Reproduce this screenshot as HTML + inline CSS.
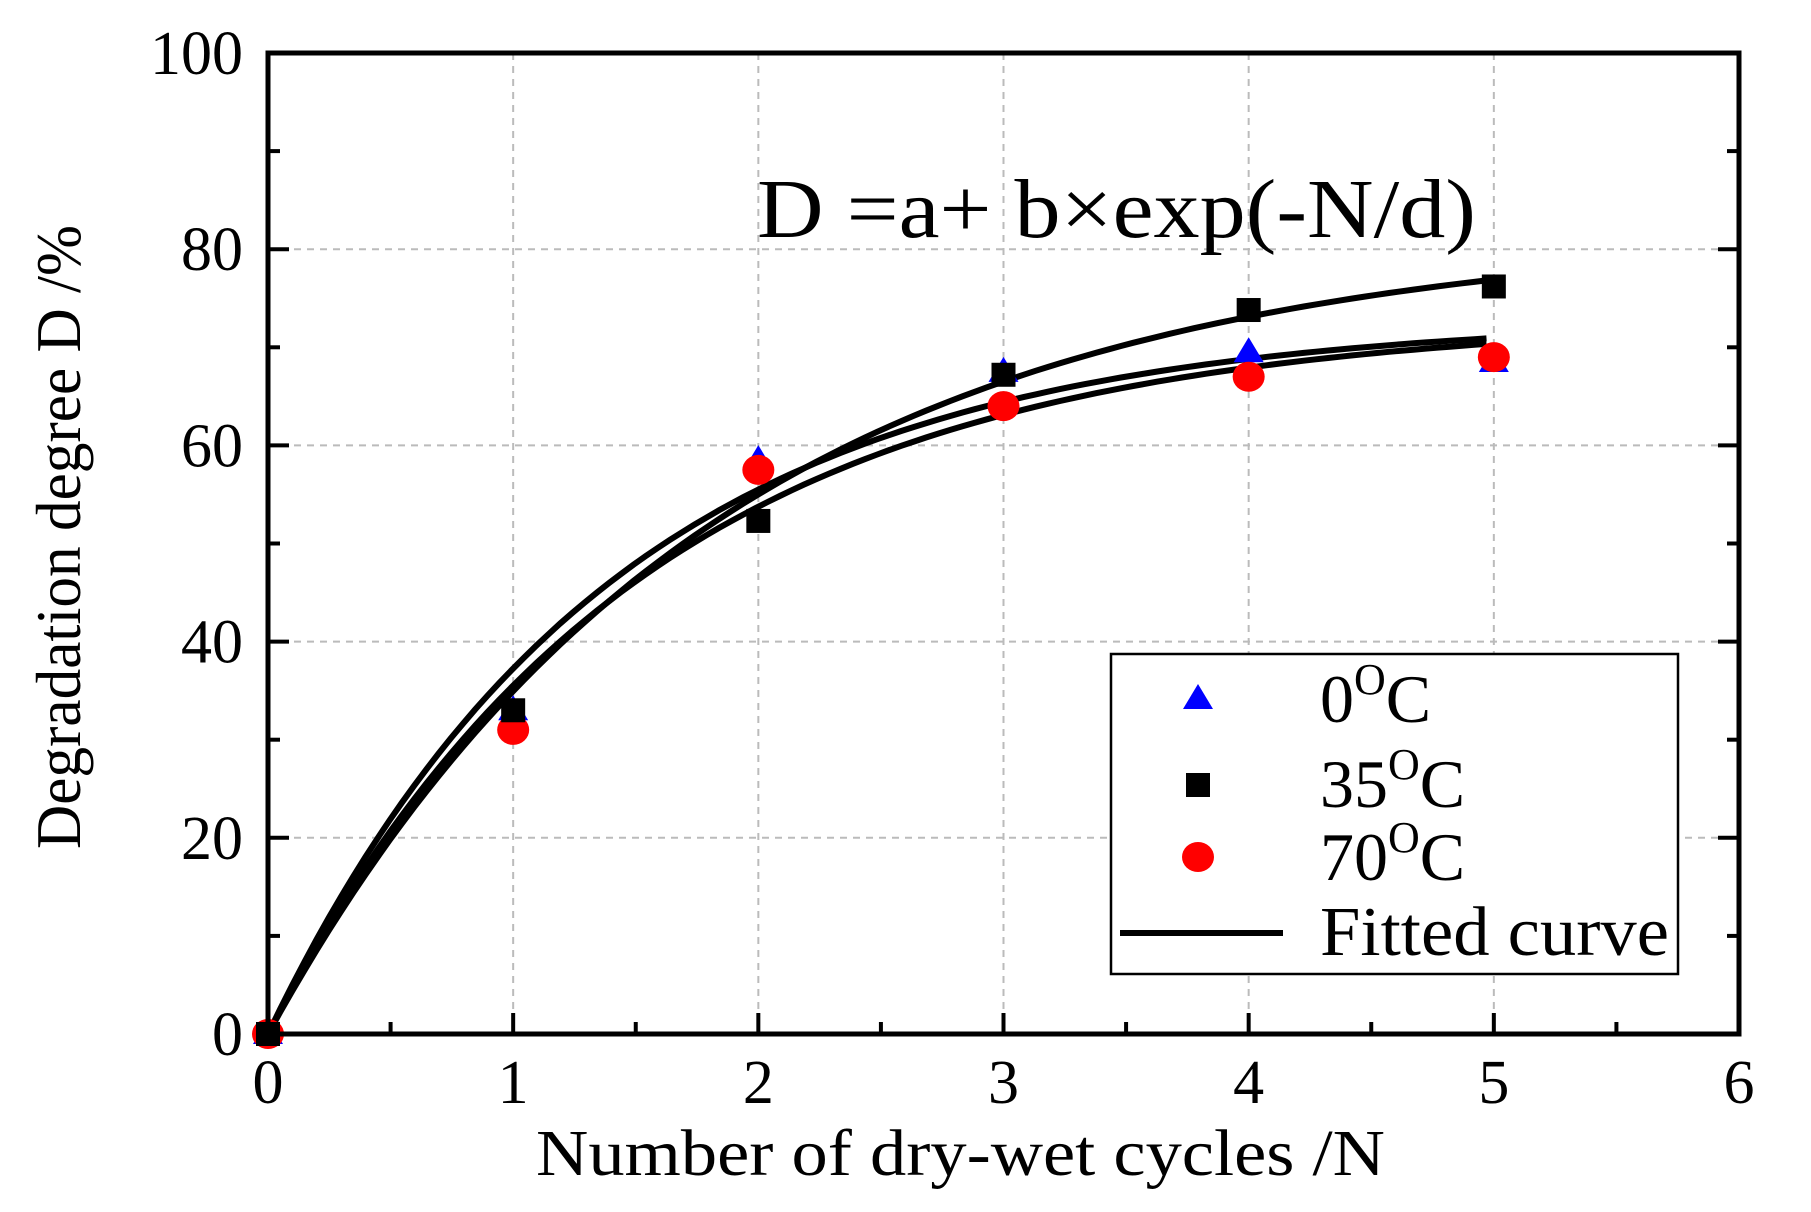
<!DOCTYPE html>
<html><head><meta charset="utf-8"><style>
html,body{margin:0;padding:0;background:#fff;}
svg{display:block;font-family:"Liberation Serif",serif;}
</style></head><body>
<svg id="chart" width="1811" height="1212" viewBox="0 0 1811 1212" xmlns="http://www.w3.org/2000/svg">
<g id="grid"></g>
<g id="curves"></g>
<g id="points"></g>
<g id="axes"></g>
<text x="757" y="237" font-size="84" textLength="719" lengthAdjust="spacingAndGlyphs">D =a+ b×exp(-N/d)</text>
<text x="536" y="1175" font-size="66" textLength="849" lengthAdjust="spacingAndGlyphs">Number of dry-wet cycles /N</text>
<text transform="translate(80,537) rotate(-90)" font-size="64" text-anchor="middle" textLength="624" lengthAdjust="spacingAndGlyphs">Degradation degree D /%</text>
<g>
<rect x="1111" y="654" width="567" height="320" fill="#fff" stroke="#000" stroke-width="2.5"/>
<path d="M1183,709 L1213,709 L1198,684 Z" fill="#0000ff"/>
<text x="1320" y="722" font-size="68">0<tspan dy="-28" font-size="44">O</tspan><tspan dy="28">C</tspan></text>
<rect x="1186" y="773" width="24" height="24" fill="#000"/>
<text x="1320" y="807" font-size="68">35<tspan dy="-28" font-size="44">O</tspan><tspan dy="28">C</tspan></text>
<ellipse cx="1198" cy="857" rx="16" ry="15" fill="#ff0000"/>
<text x="1320" y="880" font-size="68">70<tspan dy="-28" font-size="44">O</tspan><tspan dy="28">C</tspan></text>
<line x1="1120" y1="933" x2="1283" y2="933" stroke="#000" stroke-width="6"/>
<text x="1320" y="955" font-size="70" textLength="349" lengthAdjust="spacingAndGlyphs">Fitted curve</text>
</g>
</svg>
<script>
const xTicks=[0,1,2,3,4,5,6];
const yTicks=[0,20,40,60,80,100];
const cycles=[0,1,2,3,4,5];
const temp0=[0,33,58.5,67.5,69.5,68.5];
const temp35=[0,33,52.3,67.2,73.8,76.2];
const temp70=[0,31,57.5,64,67,69];
const fitA=[73,82,73];
const fitD=[1.4,1.8,1.5];
const fitNames=['fit-0c','fit-35c','fit-70c'];
const L=268,R=1739,T=53,B=1034;
const X=v=>L+(v-0)/(6-0)*(R-L);
const Y=v=>B-(v-0)/(100-0)*(B-T);
const NS='http://www.w3.org/2000/svg';
function mk(tag,parent,attrs){const e=document.createElementNS(NS,tag);for(const k in attrs)e.setAttribute(k,attrs[k]);parent.appendChild(e);return e;}
const grid=document.getElementById('grid'),axes=document.getElementById('axes');
xTicks.forEach(t=>{
  if(t>0&&t<6){const g=mk('line',grid,{x1:X(t),x2:X(t),y1:T,y2:B,stroke:'#bbb','stroke-width':2,'stroke-dasharray':'7,6'});
  
  }
  const tk=mk('line',axes,{x1:X(t),x2:X(t),y1:B,y2:B-21,stroke:'#000','stroke-width':4});
  
  
  const lb=mk('text',axes,{x:X(t),y:1103,'font-size':62,'text-anchor':'middle'});lb.textContent=t;
  
  
  if(t<6){const m=mk('line',axes,{x1:X(t+0.5),x2:X(t+0.5),y1:B,y2:B-12,stroke:'#000','stroke-width':4});
  
  }
});
yTicks.forEach(t=>{
  if(t>0&&t<100){const g=mk('line',grid,{x1:L,x2:R,y1:Y(t),y2:Y(t),stroke:'#bbb','stroke-width':2,'stroke-dasharray':'7,6'});
  
  }
  [[L,L+21],[R,R-21]].forEach(p=>{const tk=mk('line',axes,{x1:p[0],x2:p[1],y1:Y(t),y2:Y(t),stroke:'#000','stroke-width':4});
  
  });
  if(t<100)[[L,L+12],[R,R-12]].forEach(p=>{const m=mk('line',axes,{x1:p[0],x2:p[1],y1:Y(t+10),y2:Y(t+10),stroke:'#000','stroke-width':4});
  
  });
  const lb=mk('text',axes,{x:243,y:Y(t)+21,'font-size':62,'text-anchor':'end'});lb.textContent=t;
  
  
});
const fr=mk('rect',axes,{x:L,y:T,width:R-L,height:B-T,fill:'none',stroke:'#000','stroke-width':5});


const curves=document.getElementById('curves');
fitA.forEach((a,i)=>{let d='';for(let k=0;k<=100;k++){const n=4.97*k/100;const v=a*(1-Math.exp(-n/fitD[i]));d+=(k?'L':'M')+X(n).toFixed(1)+','+Y(v).toFixed(1);}
  const p=mk('path',curves,{d:d,fill:'none',stroke:'#000','stroke-width':6});
  
  });
const pts=document.getElementById('points');
cycles.forEach((c,i)=>{
  const tr=mk('path',pts,{d:`M${X(c)-15},${Y(temp0[i])+10} L${X(c)+15},${Y(temp0[i])+10} L${X(c)},${Y(temp0[i])-15} Z`,fill:'#0000ff'});
  
  
  const ci=mk('ellipse',pts,{cx:X(c),cy:Y(temp70[i]),rx:16,ry:15,fill:'#ff0000'});
  
  
  const sq=mk('rect',pts,{x:X(c)-12,y:Y(temp35[i])-12,width:24,height:24,fill:'#000'});
  
  
});
</script>
</body></html>
